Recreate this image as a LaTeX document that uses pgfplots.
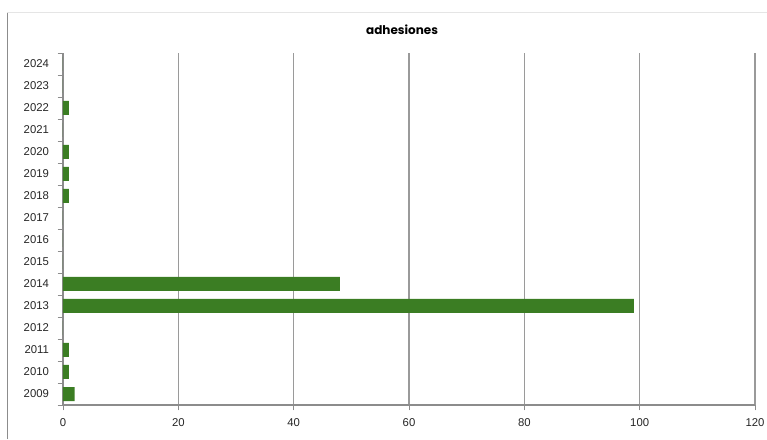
\documentclass[border=0pt]{standalone}
\usepackage{pgfplots}
\pgfplotsset{compat=1.18}
\usepackage{fontspec}
\setmainfont{Liberation Sans}
\newfontfamily\titlefont{Poppins}
\definecolor{bargreen}{HTML}{3B7D23}
\definecolor{gridgray}{HTML}{9A9A9A}
\definecolor{axgray}{HTML}{8C8C8C}
\begin{document}
\begin{tikzpicture}
\useasboundingbox (0pt,0pt) rectangle (575.25pt,329.25pt);
\draw[color=black!45] (5.25pt,0pt) -- (5.25pt,320.25pt);
\draw[color=black!10] (5.25pt,320.25pt) -- (575.25pt,320.25pt);
\begin{axis}[
  at={(47.25pt,25.5pt)}, anchor=south west,
  scale only axis, width=519pt, height=264pt,
  xbar, bar width=10.5pt,
  xmin=0, xmax=120,
  ymin=2008.5, ymax=2024.5,
  xtick={0,20,...,120},
  ytick={2009,...,2024},
  yticklabels={2009,2010,2011,2012,2013,2014,2015,2016,2017,2018,2019,2020,2021,2022,2023,2024},
  minor ytick={2008.5,2009.5,...,2024.5},
  major y tick style={draw=none},
  minor y tick style={axgray, line width=0.6pt},
  x tick style={axgray, line width=0.6pt},
  tick align=outside,
  major tick length=4pt,
  minor tick length=4pt,
  xmajorgrids,
  grid style={gridgray, line width=0.8pt},
  axis x line*=bottom, axis y line*=left,
  axis line style={axgray, line width=0.8pt, -},
  tick label style={font=\fontsize{8.5}{10}\selectfont, text=black!85},
  /pgf/number format/assume math mode=true,
  yticklabel style={xshift=-3pt},
  xticklabel style={yshift=-3pt},
  title={\titlefont\bfseries adhesiones},
  title style={at={(0.49,1)}, yshift=4pt, font=\fontsize{9}{10}\selectfont},
]
\addplot[fill=bargreen, draw=none] coordinates {
  (2,2009) (1,2010) (1,2011) (0,2012) (99,2013) (48,2014)
  (0,2015) (0,2016) (0,2017) (1,2018) (1,2019) (1,2020)
  (0,2021) (1,2022) (0,2023) (0,2024)
};
\end{axis}
\end{tikzpicture}
\end{document}
